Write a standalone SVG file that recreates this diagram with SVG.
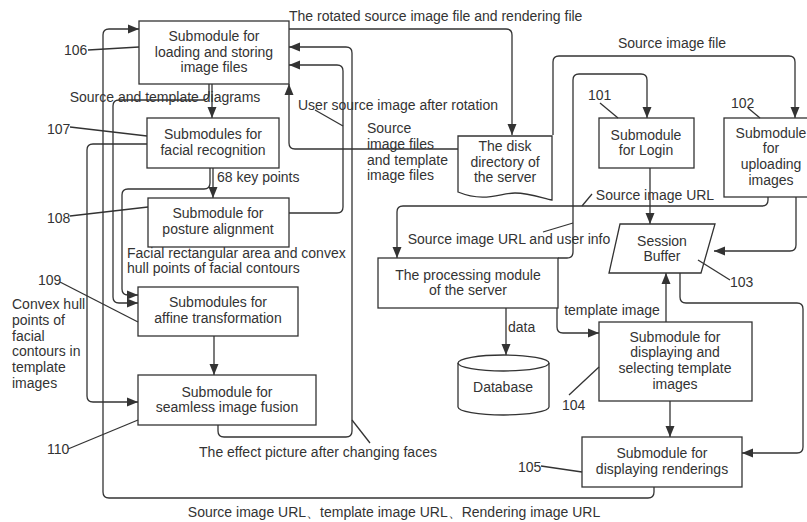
<svg xmlns="http://www.w3.org/2000/svg" width="807" height="522" viewBox="0 0 807 522">
<defs>
<style>
.b{fill:#fff;stroke:#333;stroke-width:1.3}
.c{fill:none;stroke:#333;stroke-width:1.3}
.a{marker-end:url(#arr)}
text{font-family:"Liberation Sans",Arial,sans-serif;font-size:14px;fill:#333}
.m{text-anchor:middle}
</style>
<marker id="arr" markerUnits="userSpaceOnUse" markerWidth="12" markerHeight="10" refX="11" refY="5" orient="auto">
<path d="M0,0.5 L11,5 L0,9.5 z" fill="#333"/>
</marker>
</defs>
<rect width="807" height="522" fill="#fff"/>

<g id="connectors">
<path class="c a" d="M289,29 H506 Q512,29 512,35 V135"/>
<path class="c a" d="M553,135 V62 Q553,56 559,56 H789 Q795,56 795,62 V118"/>
<path class="c a" d="M558,258 H567 Q573,258 573,252 V80 Q573,74 579,74 H641 Q647,74 647,80 V118"/>
<path class="c a" d="M768,197 V200 Q768,206 762,206 H403 Q397,206 397,212 V258"/>
<path class="c a" d="M796,197 V245 Q796,251 790,251 H714"/>
<path class="c a" d="M650,168 V224"/>
<path class="c a" d="M680,273 V297 Q680,303 686,303 H797 Q803,303 803,309 V447 Q803,453 797,453 H742"/>
<path class="c a" d="M666,322 V273"/>
<path class="c a" d="M557,308 V327 Q557,333 563,333 H599"/>
<path class="c a" d="M506,308 V355"/>
<path class="c a" d="M670,401 V437"/>
<path class="c a" d="M654,487 V492 Q654,498 648,498 H109 Q103,498 103,492 V35 Q103,29 109,29 H139"/>
<path class="c a" d="M212,84 V118"/>
<path class="c a" d="M209,84 V94 Q209,100 203,100 H119 Q113,100 113,106 V297 Q113,303 119,303 H138"/>
<path class="c a" d="M213,168 V198"/>
<path class="c a" d="M210,168 V183 Q210,189 204,189 H128 Q122,189 122,195 V289 Q122,295 128,295 H138"/>
<path class="c a" d="M147,144 H93 Q87,144 87,150 V396 Q87,402 93,402 H138"/>
<path class="c a" d="M289,213 H337 Q343,213 343,207 V71 Q343,65 337,65 H289"/>
<path class="c a" d="M218,425 V431 Q218,437 224,437 H346 Q352,437 352,431 V53 Q352,47 346,47 H289"/>
<path class="c a" d="M458,149 H295 Q289,149 289,143 V84"/>
<path class="c a" d="M214,336 V375"/>
<path class="c" d="M543,232 L573,223"/>
<path class="c" d="M582,206 L592,194"/>
<path class="c" d="M343,126 L315,110"/>
<path class="c" d="M352,420 L370,443"/>
<text x="289" y="21">The rotated source image file and rendering file</text>
<text x="672" y="48" class="m">Source image file</text>
<text x="509" y="244" class="m">Source image URL and user info</text>
<text x="655" y="200" class="m">Source image URL</text>
<text x="612" y="315" class="m">template image</text>
<text x="508" y="332">data</text>
<text x="394" y="517" class="m">Source image URL、template image URL、Rendering image URL</text>
<text x="165" y="102" class="m">Source and template diagrams</text>
<text x="217" y="182">68 key points</text>
<text y="309.3"><tspan x="12">Convex hull</tspan><tspan x="12" dy="15.7">points of</tspan><tspan x="12" dy="15.7">facial</tspan><tspan x="12" dy="15.7">contours in</tspan><tspan x="12" dy="15.7">template</tspan><tspan x="12" dy="15.7">images</tspan></text>
<text x="298" y="110">User source image after rotation</text>
<text x="318" y="457" class="m">The effect picture after changing faces</text>
<text y="133.2"><tspan x="367">Source</tspan><tspan x="367" dy="15.7">image files</tspan><tspan x="367" dy="15.7">and template</tspan><tspan x="367" dy="15.7">image files</tspan></text>
<text y="257.7"><tspan x="127">Facial rectangular area and convex</tspan><tspan x="127" dy="15.7">hull points of facial contours</tspan></text>
</g>

<g id="n106">
<rect class="b" x="139" y="21" width="150" height="63"/>
<text class="m" y="40.8"><tspan x="214">Submodule for</tspan><tspan x="214" dy="15.7">loading and storing</tspan><tspan x="214" dy="15.7">image files</tspan></text>
<path class="c" d="M88,50 L139,47"/>
<text x="64" y="55">106</text>
</g>

<g id="n107">
<rect class="b" x="147" y="118" width="132" height="50"/>
<text class="m" y="139.2"><tspan x="213">Submodules for</tspan><tspan x="213" dy="15.7">facial recognition</tspan></text>
<path class="c" d="M70,127 L147,136"/>
<text x="47" y="134">107</text>
</g>

<g id="n108">
<rect class="b" x="148" y="198" width="141" height="49"/>
<text class="m" y="218.2"><tspan x="218">Submodule for</tspan><tspan x="218" dy="15.7">posture alignment</tspan></text>
<path class="c" d="M70,216 L148,207"/>
<text x="47" y="223">108</text>
</g>

<g id="n109">
<rect class="b" x="138" y="287" width="160" height="49"/>
<text class="m" y="307.2"><tspan x="218">Submodules for</tspan><tspan x="218" dy="15.7">affine transformation</tspan></text>
<path class="c" d="M60,282 L138,322"/>
<text x="38" y="285">109</text>
</g>

<g id="n110">
<rect class="b" x="138" y="375" width="178" height="50"/>
<text class="m" y="396.7"><tspan x="227">Submodule for</tspan><tspan x="227" dy="15.7">seamless image fusion</tspan></text>
<path class="c" d="M68,449 L138,420"/>
<text x="47" y="454">110</text>
</g>

<g id="disk">
<path class="b" d="M458,136 H552 V200 C545,199 530,193 515,193 C500,193 485,203 458,192 Z"/>
<text class="m" y="150.8"><tspan x="505">The disk</tspan><tspan x="505" dy="15.7">directory of</tspan><tspan x="505" dy="15.7">the server</tspan></text>
</g>

<g id="n101">
<rect class="b" x="599" y="118" width="95" height="50"/>
<text class="m" y="139.7"><tspan x="646">Submodule</tspan><tspan x="646" dy="15.7">for Login</tspan></text>
<path class="c" d="M600,103 L618,118"/>
<text x="588" y="100">101</text>
</g>

<g id="n102">
<rect class="b" x="724" y="118" width="94" height="79"/>
<text class="m" y="137.5"><tspan x="771">Submodule</tspan><tspan x="771" dy="15.7">for</tspan><tspan x="771" dy="15.7">uploading</tspan><tspan x="771" dy="15.7">images</tspan></text>
<path class="c" d="M748,108 L760,118"/>
<text x="731" y="108">102</text>
</g>

<g id="n103">
<path class="b" d="M620,224 H715 L701,273 H609 Z"/>
<text class="m" y="245.7"><tspan x="662">Session</tspan><tspan x="662" dy="15.7">Buffer</tspan></text>
<path class="c" d="M698,260 L730,280"/>
<text x="730" y="287">103</text>
</g>

<g id="processing">
<rect class="b" x="378" y="258" width="180" height="50"/>
<text class="m" y="279.7"><tspan x="468">The processing module</tspan><tspan x="468" dy="15.7">of the server</tspan></text>
</g>

<g id="database">
<path class="b" d="M458,363 V407 A45.5,8 0 0 0 549,407 V363 A45.5,8 0 0 0 458,363 Z"/>
<path class="c" d="M458,363 A45.5,8 0 0 0 549,363"/>
<text x="503" y="392" class="m">Database</text>
</g>

<g id="n104">
<rect class="b" x="599" y="322" width="153" height="79"/>
<text class="m" y="341.7"><tspan x="675">Submodule for</tspan><tspan x="675" dy="15.7">displaying and</tspan><tspan x="675" dy="15.7">selecting template</tspan><tspan x="675" dy="15.7">images</tspan></text>
<path class="c" d="M569,395 L599,367"/>
<text x="562" y="410">104</text>
</g>

<g id="n105">
<rect class="b" x="582" y="437" width="160" height="50"/>
<text class="m" y="458.2"><tspan x="662">Submodule for</tspan><tspan x="662" dy="15.7">displaying renderings</tspan></text>
<path class="c" d="M541,466 L582,472"/>
<text x="518" y="472">105</text>
</g>
</svg>
